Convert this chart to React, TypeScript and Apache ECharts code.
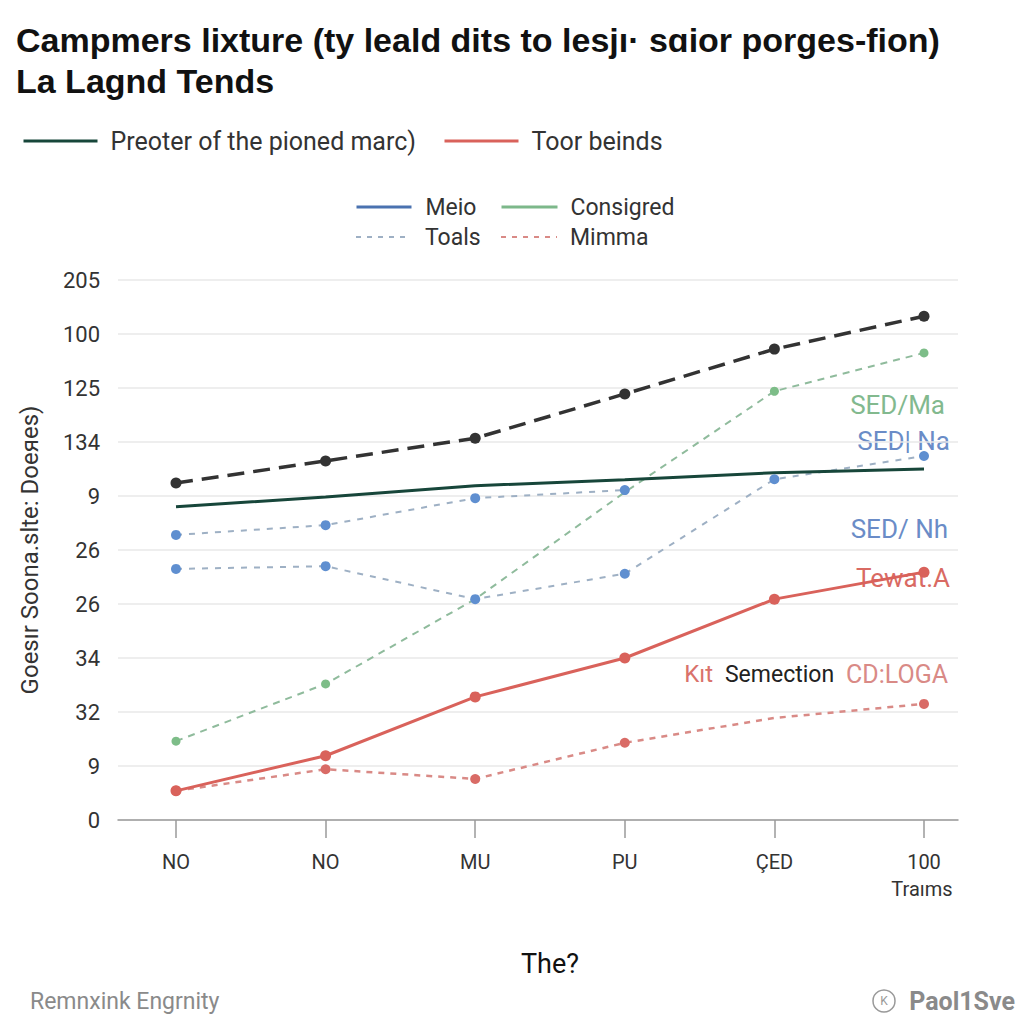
import React, { useEffect, useRef } from 'react';
import * as echarts from 'echarts';

const titleText = 'Campmers lixture (ty leald dits to lesjı· sɑior porges-fion)\nLa Lagnd Tends';
const xLabels = ['NO', 'NO', 'MU', 'PU', 'ÇED', '100'];
const yLabels = ['0', '9', '32', '34', '26', '26', '9', '134', '125', '100', '205'];
const yAxisName = 'Goesır Soona.slte: Doeяes)';
const xAxisName = 'The?';
const xEndName = 'Traıms';

const nameBlack = 'Trend';
const nameDarkGreen = 'Preoter of the pioned marc)';
const nameRed = 'Toor beinds';
const nameBlueLow = 'Meio';
const nameGreen = 'Consigred';
const nameBlueHigh = 'Toals';
const nameRedDash = 'Mimma';

const blackValues = [6.24, 6.65, 7.07, 7.89, 8.72, 9.33];
const darkGreenValues = [5.8, 5.98, 6.19, 6.3, 6.43, 6.5];
const blueHighValues = [5.28, 5.46, 5.96, 6.11, null, null];
const blueLowValues = [4.65, 4.7, 4.09, 4.56, 6.31, 6.74];
const greenValues = [1.46, 2.52, 4.09, 6.07, 7.94, 8.65];
const redValues = [0.54, 1.19, 2.28, 3.0, 4.09, 4.59];
const redDashValues = [0.54, 0.94, 0.76, 1.43, 1.89, 2.15];

// points drawn without a marker
const greenNoMarker = [2, 3];
const redDashNoMarker = [4];

const C = {
  black: '#333333',
  darkGreen: '#17463a',
  blueDot: '#5f8fd0',
  blueLine: '#9eb0c4',
  blueLegend: '#4a72b0',
  greenDot: '#7dbd88',
  greenLine: '#8fbb9c',
  greenLegend: '#7db88a',
  red: '#d9625b',
  redDash: '#d98a86',
  text: '#333333',
  grid: '#e8e8e8',
  axis: '#9a9a9a',
};

const withHidden = (vals: (number | null)[], hidden: number[]) =>
  vals.map((v, i) => (hidden.includes(i) ? { value: v, symbolSize: 0 } : v));

export default function App() {
  const ref = useRef<HTMLDivElement>(null);
  useEffect(() => {
    if (!ref.current) return;
    const chart = echarts.init(ref.current, undefined, { renderer: 'svg' });
    const legendItem = (name: string, color: string, type: any, width: number) => ({
      name,
      itemStyle: { opacity: 0 },
      lineStyle: { color, type, width, opacity: 1 },
    });
    const mkLegend = (item: any, left: number, top: number, w: number, fs: number, pad: number) => ({
      data: [item],
      left,
      top,
      padding: 0,
      itemWidth: w,
      itemHeight: 14,
      selectedMode: false,
      textStyle: { fontSize: fs, color: C.text, lineHeight: 26, padding: [0, 0, 0, pad], fontFamily: 'Roboto' },
    });
    const option: any = {
      animation: false,
      backgroundColor: '#ffffff',
      textStyle: { fontFamily: 'Roboto' },
      title: {
        text: titleText,
        left: 16,
        top: 19,
        padding: 0,
        textStyle: { fontSize: 34, fontWeight: 'bold', color: '#111', lineHeight: 41, fontFamily: 'Liberation Sans' },
      },
      legend: [
        mkLegend(legendItem(nameDarkGreen, C.darkGreen, 'solid', 3), 22, 128, 74, 25, 8),
        mkLegend(legendItem(nameRed, C.red, 'solid', 3), 443, 128, 74, 25, 8),
        mkLegend(legendItem(nameBlueLow, C.blueLegend, 'solid', 3), 355, 194, 55, 23, 9),
        mkLegend(legendItem(nameGreen, C.greenLegend, 'solid', 3), 500, 194, 56, 23, 8),
        mkLegend(legendItem(nameBlueHigh, C.blueLine, [5, 6], 2), 355, 224, 55, 23, 9),
        mkLegend(legendItem(nameRedDash, C.redDash, [5, 6], 2), 500, 224, 56, 23, 8),
      ],
      grid: [
        { left: 118, right: 66, top: 280, bottom: 204 },
        { left: 176, right: 100, top: 280, bottom: 204 },
      ],
      xAxis: [
        {
          gridIndex: 0,
          type: 'value',
          min: 0,
          max: 1,
          axisLine: { show: true, lineStyle: { color: C.axis, width: 1.5 } },
          axisTick: { show: false },
          axisLabel: { show: false },
          splitLine: { show: false },
        },
        {
          gridIndex: 1,
          type: 'category',
          boundaryGap: false,
          data: xLabels,
          axisLine: { show: false },
          axisTick: { show: true, length: 18, lineStyle: { color: C.axis, width: 1.5 } },
          axisLabel: { margin: 32, fontSize: 20, color: C.text },
          name: xAxisName,
          nameLocation: 'middle',
          nameGap: 130,
          nameTextStyle: { fontSize: 27, color: '#111' },
        },
      ],
      yAxis: [
        {
          gridIndex: 0,
          type: 'value',
          min: 0,
          max: 10,
          interval: 1,
          axisLine: { show: false },
          axisTick: { show: false },
          axisLabel: {
            margin: 18,
            fontSize: 22,
            color: C.text,
            formatter: (v: number) => yLabels[Math.round(v)] ?? '',
          },
          splitLine: { show: true, lineStyle: { color: C.grid, width: 1.5 } },
          name: yAxisName,
          nameLocation: 'middle',
          nameGap: 76,
          nameTextStyle: { fontSize: 24, color: C.text },
        },
        { gridIndex: 1, type: 'value', min: 0, max: 10, show: false },
      ],
      series: [
        {
          name: nameBlueHigh, type: 'line', xAxisIndex: 1, yAxisIndex: 1, data: blueHighValues,
          symbol: 'circle', symbolSize: 10, itemStyle: { color: C.blueDot },
          lineStyle: { color: C.blueLine, width: 2, type: [6, 7] },
        },
        {
          name: nameBlueLow, type: 'line', xAxisIndex: 1, yAxisIndex: 1, data: blueLowValues,
          symbol: 'circle', symbolSize: 10, itemStyle: { color: C.blueDot },
          lineStyle: { color: C.blueLine, width: 2, type: [6, 7] },
        },
        {
          name: nameGreen, type: 'line', xAxisIndex: 1, yAxisIndex: 1, data: withHidden(greenValues, greenNoMarker),
          symbol: 'circle', symbolSize: 9, itemStyle: { color: C.greenDot },
          lineStyle: { color: C.greenLine, width: 2, type: [7, 6] },
        },
        {
          name: nameRedDash, type: 'line', xAxisIndex: 1, yAxisIndex: 1, data: withHidden(redDashValues, redDashNoMarker),
          symbol: 'circle', symbolSize: 10, itemStyle: { color: '#d96b66' },
          lineStyle: { color: C.redDash, width: 2.5, type: [6, 6] },
        },
        {
          name: nameRed, type: 'line', xAxisIndex: 1, yAxisIndex: 1, data: redValues,
          symbol: 'circle', symbolSize: 11, itemStyle: { color: C.red },
          lineStyle: { color: C.red, width: 3 },
        },
        {
          name: nameDarkGreen, type: 'line', xAxisIndex: 1, yAxisIndex: 1, data: darkGreenValues,
          showSymbol: false, symbol: 'none', itemStyle: { color: C.darkGreen },
          lineStyle: { color: C.darkGreen, width: 3 },
        },
        {
          name: nameBlack, type: 'line', xAxisIndex: 1, yAxisIndex: 1, data: blackValues,
          symbol: 'circle', symbolSize: 11, itemStyle: { color: C.black },
          lineStyle: { color: C.black, width: 3.5, type: [17, 9] },
        },
      ],
      graphic: [
        { type: 'text', x: 945, y: 405, style: { text: 'SED/Ma', fill: '#82b98e', fontSize: 26, fontFamily: 'Roboto', align: 'right', verticalAlign: 'middle' } },
        { type: 'text', x: 950, y: 441, style: { text: 'SED| Na', fill: '#6a8cc7', fontSize: 26, fontFamily: 'Roboto', align: 'right', verticalAlign: 'middle' } },
        { type: 'text', x: 948, y: 529, style: { text: 'SED/ Nh', fill: '#6a8cc7', fontSize: 26, fontFamily: 'Roboto', align: 'right', verticalAlign: 'middle' } },
        { type: 'text', x: 950, y: 578, style: { text: 'Tewat.A', fill: '#d96a63', fontSize: 26, fontFamily: 'Roboto', align: 'right', verticalAlign: 'middle' } },
        {
          type: 'text', x: 948, y: 674,
          style: {
            text: '{r|Kıt}  {d|Semection}  {p|CD:LOGA}',
            align: 'right', verticalAlign: 'middle', fontFamily: 'Roboto', fontSize: 24,
            rich: {
              r: { fill: '#d9726b', fontSize: 24, fontFamily: 'Roboto' },
              d: { fill: '#222222', fontSize: 23, fontFamily: 'Roboto' },
              p: { fill: '#d98a86', fontSize: 25, fontFamily: 'Roboto' },
            },
          },
        },
        { type: 'text', x: 922, y: 889, style: { text: xEndName, fill: C.text, fontSize: 20, fontFamily: 'Roboto', align: 'center', verticalAlign: 'middle' } },
        { type: 'text', x: 30, y: 1001, style: { text: 'Remnxink Engrnity', fill: '#8a8a8a', fontSize: 23, fontFamily: 'Roboto', align: 'left', verticalAlign: 'middle' } },
        { type: 'circle', shape: { cx: 884, cy: 1001, r: 11 }, style: { fill: 'none', stroke: '#999', lineWidth: 1.5 } },
        { type: 'text', x: 884, y: 1001, style: { text: 'K', fill: '#999', fontSize: 12, fontFamily: 'Roboto', align: 'center', verticalAlign: 'middle' } },
        { type: 'text', x: 1015, y: 1001, style: { text: 'Paol1Sve', fill: '#8a8a8a', fontSize: 25, fontWeight: 'bold', fontFamily: 'Roboto', align: 'right', verticalAlign: 'middle' } },
      ],
    };
    chart.setOption(option);
    return () => chart.dispose();
  }, []);
  return <div ref={ref} style={{ position: 'fixed', left: 0, top: 0, width: 1024, height: 1024 }} />;
}
